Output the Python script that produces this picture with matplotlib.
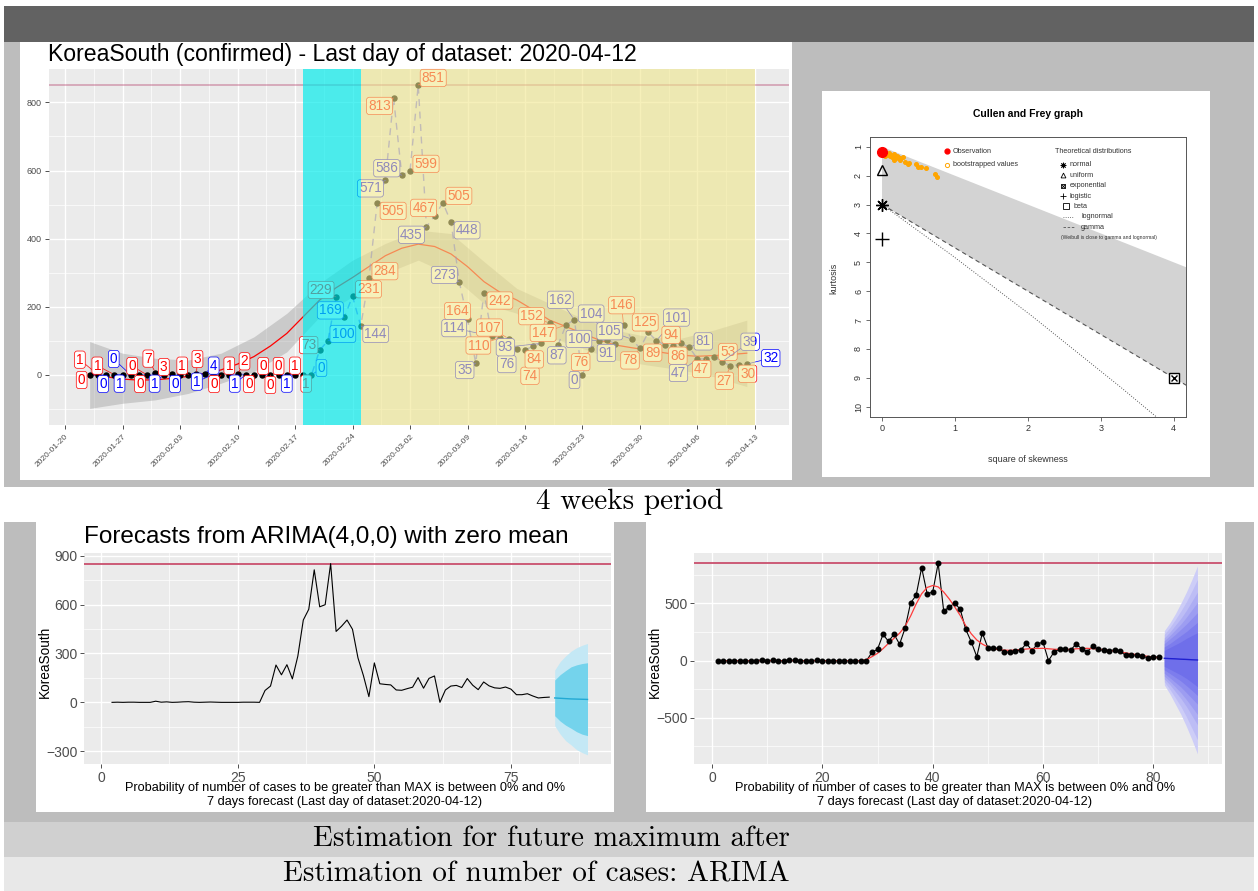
import numpy as np
import matplotlib
matplotlib.use("Agg")
import matplotlib.pyplot as plt
import matplotlib.dates as mdates
from matplotlib.patches import Rectangle, Polygon

plt.rcParams['font.family'] = ['Liberation Sans', 'DejaVu Sans']

# ---- data -------------------------------------------------------------
start_day = '2020-01-23'
new_cases = [0, 1, 0, 1, 1, 0, 0, 0, 7, 1, 3, 0, 1, 3, 4, 1, 0, 1, 2, 1,
             0, 0, 0, 0, 1, 1, 1, 0, 73, 100, 229, 169, 231, 144, 284, 505,
             571, 813, 586, 599, 851, 435, 467, 505, 448, 273, 164, 35, 242,
             114, 110, 107, 76, 74, 84, 93, 152, 87, 147, 162, 0, 76, 100,
             104, 91, 146, 105, 78, 125, 101, 89, 86, 94, 81, 47, 47, 53, 39,
             27, 30, 32]
label_group = ("rrbrbbrrrb" "rbrrbbrrrb" "rrrrbrr"
               "brbrbrbrrb" "rbrrbrrbbr" "brbrrbrrbr" "brbbrbbbrb"
               "rrbrrrbbrr" "brrb")
max_cases = 851
date_ticks = ['2020-01-20', '2020-01-27', '2020-02-03', '2020-02-10',
              '2020-02-17', '2020-02-24', '2020-03-02', '2020-03-09',
              '2020-03-16', '2020-03-23', '2020-03-30', '2020-04-06',
              '2020-04-13']
period_cyan = ('2020-02-18', '2020-02-25')
period_yellow = ('2020-02-25', '2020-04-13')

# loess curve of the top chart (day index from start, value)
smooth_day = [0, 2, 4, 6, 8, 10, 12, 14, 16, 18, 20, 22, 24, 26, 28, 30, 32,
              34, 36, 38, 40, 42, 44, 46, 48, 50, 52, 54, 56, 58, 60, 62, 64,
              66, 68, 70, 72, 74, 76, 78, 80]
smooth_val = [2, -5, -12, -15, -14, -10, -4, 5, 15, 32, 54, 85, 122, 171, 220,
              256, 286, 318, 350, 372, 384, 377, 355, 318, 274, 242, 220, 191,
              161, 142, 122, 103, 88, 80, 73, 65, 58, 55, 57, 60, 64]
band_day = [0, 4, 8, 12, 16, 20, 24, 28, 32, 36, 40, 44, 48, 52, 56, 60, 64,
            68, 72, 76, 80]
band_hi = [98, 64, 49, 44, 64, 112, 181, 269, 337, 386, 425, 415, 333, 254,
           210, 166, 132, 112, 108, 132, 161]
band_lo = [-98, -83, -73, -54, -24, 10, 68, 171, 230, 298, 337, 293, 210, 181,
           112, 78, 44, 29, 15, -5, -34]

# Cullen and Frey
obs_skew2, obs_kurt = 0.0, 1.17
boot_skew2 = [0.01, 0.03, 0.04, 0.06, 0.09, 0.11, 0.13, 0.16, 0.16, 0.19, 0.2,
              0.22, 0.24, 0.25, 0.29, 0.32, 0.36, 0.37, 0.46, 0.5, 0.53, 0.6,
              0.72, 0.75, 0.07, 0.12]
boot_kurt = [1.22, 1.25, 1.31, 1.25, 1.2, 1.31, 1.37, 1.25, 1.46, 1.4, 1.31,
             1.35, 1.46, 1.39, 1.37, 1.51, 1.58, 1.55, 1.58, 1.69, 1.69, 1.75,
             1.95, 2.06, 1.3, 1.28]
lognorm_skew2 = [0, 0.96, 2.05, 3.27, 3.66, 3.8]
lognorm_kurt = [3, 4.76, 6.85, 9.32, 10.14, 10.43]
gamma_skew2 = [0, 4.2]
gamma_kurt = [3, 9.3]
beta_region = [(0, 1), (4.2, 5.2), (4.2, 9.3), (0, 3)]

# ARIMA forecasts
fc_left_mean = [27, 25, 23, 21, 20, 19, 18]
fc_left_hi95 = [198, 250, 285, 314, 335, 350, 361]
fc_left_lo95 = [-143, -195, -235, -261, -290, -308, -322]
fc_left_hi80 = [137, 170, 195, 218, 230, 238, 243]
fc_left_lo80 = [-82, -115, -140, -159, -180, -195, -204]

fc_right_mean = [21, 18, 16, 13, 11, 8, 6]
fc_right_hi = [[262, 330, 410, 503, 600, 710, 828],
               [230, 290, 360, 435, 515, 610, 710],
               [200, 250, 310, 370, 440, 520, 600],
               [175, 220, 270, 320, 380, 445, 510],
               [150, 190, 230, 275, 320, 370, 420],
               [120, 150, 185, 220, 255, 295, 335],
               [90, 115, 140, 165, 195, 220, 245]]
fc_right_lo = [[-212, -290, -380, -470, -575, -690, -815],
               [-185, -250, -325, -400, -490, -590, -690],
               [-160, -210, -270, -330, -400, -480, -560],
               [-135, -180, -230, -280, -340, -405, -470],
               [-110, -150, -190, -230, -280, -330, -380],
               [-80, -112, -145, -178, -218, -260, -304],
               [-50, -75, -100, -125, -155, -190, -228]]
smooth2_x = [1, 5, 10, 15, 20, 25, 27, 28, 29, 30, 31, 32, 33, 34, 35, 36, 37,
             38, 39, 40, 41, 42, 43, 44, 45, 46, 47, 48, 49, 50, 51, 52, 54,
             56, 58, 60, 62, 64, 66, 68, 70, 72, 74, 76, 78, 80, 81]
smooth2_y = [0, 0, 0, 0, 0, 0, 0, 10, 35, 64, 105, 152, 196, 240, 300, 390,
             495, 585, 640, 657, 645, 600, 540, 470, 395, 305, 235, 181, 145,
             120, 105, 95, 90, 98, 106, 108, 100, 96, 104, 108, 102, 90, 76,
             60, 45, 30, 27]

# label placement of the repelled labels, pixels (dx right, dy down)
label_offsets = [(-8, 5), (-18, -15), (-3, 9), (-17, -9), (-3, 9), (-17, -16),
                 (1, 9), (-15, -9), (-7, -14), (-9, 9), (-8, -7), (-5, 9),
                 (-6, -9), (1, -15), (9, -8), (-16, 7), (-7, 9), (0, -9),
                 (7, -13), (-11, 9), (-5, 9), (1, -9), (0, 10), (0, -9),
                 (0, 9), (0, -9), (3, 9), (10, -7), (-11, -5), (15, -7),
                 (-15, -7), (-14, -7), (16, -7), (15, 8), (16, -7), (16, 8),
                 (-15, 8), (-14, 8), (-15, -7), (16, -7), (15, -7), (-15, 8),
                 (-11, -8), (16, -7), (16, 8), (-15, -7), (-10, -8), (-11, 7),
                 (16, 8), (-38, -8), (-22, 8), (-19, -11), (-10, 15), (5, 26),
                 (1, 13), (-36, 4), (-18, -7), (-1, 10), (-23, 8), (-14, -20),
                 (-8, 5), (-10, 13), (-20, -2), (-16, -26), (-9, 9), (-2, -20),
                 (-22, -8), (-10, 12), (-3, -10), (20, -23), (-12, 8), (5, 10),
                 (-10, -8), (14, -6), (-19, 14), (-4, 10), (14, -5), (28, -20),
                 (-6, 15), (9, 9), (24, -6)]

# ---- layout -----------------------------------------------------------
W, H = 1258, 891
fig = plt.figure(figsize=(W / 100, H / 100), dpi=100)


def px_axes(x0, y0, x1, y1, **kw):
    return fig.add_axes([x0 / W, 1 - y1 / H, (x1 - x0) / W, (y1 - y0) / H], **kw)


bg = fig.add_axes([0, 0, 1, 1], zorder=-10)
bg.set_xlim(0, W)
bg.set_ylim(H, 0)
bg.axis('off')
for (x0, y0, x1, y1, c) in [(4, 6, 1254, 42, '#626262'),
                            (4, 42, 1254, 487, '#bdbdbd'),
                            (20, 42, 792, 480, 'white'),
                            (822, 91, 1210, 477, 'white'),
                            (4, 522, 1254, 822, '#bdbdbd'),
                            (36, 522, 614, 812, 'white'),
                            (646, 522, 1225, 812, 'white'),
                            (4, 822, 1254, 857, '#d0d0d0'),
                            (4, 857, 1254, 891, '#e8e8e8')]:
    bg.add_patch(Rectangle((x0, y0), x1 - x0, y1 - y0, color=c, lw=0))

ov = fig.add_axes([0, 0, 1, 1], zorder=20)
ov.set_xlim(0, W)
ov.set_ylim(H, 0)
ov.axis('off')
ov.patch.set_alpha(0)

serif = dict(family='cmr10', fontsize=21, color='black')
ov.text(630, 502, "4 weeks period", ha='center', va='center', **serif)
ov.text(790, 839, "Estimation for future maximum after", ha='right', va='center', **serif)
ov.text(790, 874, "Estimation of number of cases: ARIMA", ha='right', va='center', **serif)


def gg_style(ax, xmaj, xmin, ymaj, ymin, size, pad=2.5):
    ax.set_facecolor('#EBEBEB')
    for s in ax.spines.values():
        s.set_visible(False)
    ax.set_xticks(xmaj)
    ax.set_xticks(xmin, minor=True)
    ax.set_yticks(ymaj)
    ax.set_yticks(ymin, minor=True)
    ax.grid(which='major', color='white', lw=1.0, zorder=0)
    ax.grid(which='minor', color='white', lw=0.5, zorder=0)
    ax.set_axisbelow(True)
    ax.tick_params(which='major', length=3, width=0.6, color='#333333',
                   labelcolor='#4d4d4d', labelsize=size, pad=pad)
    ax.tick_params(which='minor', length=0)


# ---- top chart --------------------------------------------------------
days = np.datetime64(start_day) + np.arange(len(new_cases))
x = mdates.date2num(days)
x0 = x[0]
tick_x = mdates.date2num(np.array(date_ticks, dtype='datetime64[D]'))

ax = px_axes(49, 69, 789, 425)
gg_style(ax, tick_x, tick_x[:-1] + 3.5, [0, 200, 400, 600, 800],
         [-100, 100, 300, 500, 700], 6.5)
ax.set_xticklabels(date_ticks, rotation=45, ha='right', rotation_mode='anchor',
                   fontsize=6)
ax.set_xlim(tick_x[0] - 1.95, tick_x[-1] + 4.14)
ax.set_ylim(-146.7, 897.8)

ax.axhline(max_cases, color='#b03060', alpha=0.35, lw=1.4, zorder=1)
ax.fill_between(x0 + np.array(band_day), band_lo, band_hi, color='#999999',
                alpha=0.4, lw=0, zorder=2)
ax.plot(x0 + np.array(smooth_day), smooth_val, color='red', lw=0.9, zorder=3)
ax.plot(x, new_cases, color='#3030ff', lw=1.0, ls=(0, (5, 4)), alpha=0.6, zorder=3.5)
ax.plot(x, new_cases, 'o', color='black', ms=3.6, zorder=4)

for xi, v, g, (dx, dy) in zip(x, new_cases, label_group, label_offsets):
    c = 'red' if g == 'r' else 'blue'
    ax.annotate(str(v), xy=(xi, v), xytext=(dx * 0.72, -dy * 0.72),
                textcoords='offset points', ha='center', va='center',
                fontsize=9.8, color=c, zorder=5,
                bbox=dict(boxstyle='round,pad=0.12,rounding_size=0.2',
                          fc='white', ec=c, lw=0.5),
                arrowprops=dict(arrowstyle='-', color=c, lw=0.5,
                                shrinkA=0, shrinkB=2))

c0, c1 = mdates.date2num(np.array(period_cyan, dtype='datetime64[D]'))
ax.axvspan(c0, c1, color='#00EBEB', alpha=0.68, lw=0, zorder=6)
y0_, y1_ = mdates.date2num(np.array(period_yellow, dtype='datetime64[D]'))
ax.axvspan(y0_, y1_, color='khaki', alpha=0.6, lw=0, zorder=6)

ov.text(48, 55, "KoreaSouth (confirmed) - Last day of dataset: 2020-04-12",
        fontsize=16.6, ha='left', va='center')

# ---- Cullen and Frey --------------------------------------------------
cf = px_axes(870, 137, 1186, 417)
cf.set_xlim(-0.165, 4.17)
cf.set_ylim(10.36, 0.66)
cf.add_patch(Polygon(beta_region, closed=True, color='#d3d3d3', lw=0, zorder=1))
cf.plot(lognorm_skew2, lognorm_kurt, color='#555555', ls=':', lw=0.7, zorder=2)
cf.plot(gamma_skew2, gamma_kurt, color='#555555', ls=(0, (4, 3)), lw=0.8, zorder=2)
cf.plot(boot_skew2, boot_kurt, 'o', color='orange', ms=2.6, zorder=3)
cf.plot([obs_skew2], [obs_kurt], 'o', color='red', ms=7, zorder=4)
cf.plot([0], [1.8], '^', mfc='none', mec='black', ms=7, mew=1.0, zorder=4)
cf.plot([0], [3], marker=(8, 2, 0), color='black', ms=9, mew=1.0, zorder=4)
cf.plot([0], [4.2], '+', color='black', ms=10, mew=1.0, zorder=4)
cf.plot([4], [9], 's', mfc='white', mec='black', ms=7, mew=1.0, zorder=4)
cf.plot([4], [9], 'x', color='black', ms=5, mew=1.0, zorder=5)
cf.set_xticks([0, 1, 2, 3, 4])
cf.set_yticks(range(1, 11))
cf.tick_params(length=3, width=0.6, color='#555555', labelsize=6.5,
               labelcolor='#333333', pad=2)
for lab in cf.get_yticklabels():
    lab.set_rotation(90)
    lab.set_va('center')
for s in cf.spines.values():
    s.set_color('#555555')
    s.set_linewidth(0.7)
ov.text(1028, 114, "Cullen and Frey graph", fontsize=7.5, fontweight='bold',
        ha='center', va='center')
ov.text(1028, 459, "square of skewness", fontsize=6.5, ha='center', va='center',
        color='#333333')
ov.text(834, 278, "kurtosis", fontsize=6.5, ha='center', va='center',
        rotation=90, color='#333333')

leg = dict(fontsize=5.2, va='center', ha='left', color='#333333')
ov.plot([946.7], [151.3], 'o', color='red', ms=3.5)
ov.text(952.7, 151.3, "Observation", **leg)
ov.plot([946.7], [164.7], 'o', mfc='none', mec='orange', ms=3, mew=0.7)
ov.text(952.7, 164.7, "bootstrapped values", **leg)
ov.text(1055, 151.3, "Theoretical distributions", **leg)
ov.plot([1063.3], [164.7], marker=(8, 2, 0), color='black', ms=4, mew=0.6)
ov.text(1069.3, 164.7, "normal", **leg)
ov.plot([1063.3], [175.3], '^', mfc='none', mec='black', ms=3.5, mew=0.6)
ov.text(1069.3, 175.3, "uniform", **leg)
ov.plot([1063.3], [185.7], 's', mfc='white', mec='black', ms=3.5, mew=0.6)
ov.plot([1063.3], [185.7], 'x', color='black', ms=2.5, mew=0.6)
ov.text(1069.3, 185.7, "exponential", **leg)
ov.plot([1063.3], [196], '+', color='black', ms=4.5, mew=0.6)
ov.text(1069.3, 196, "logistic", **leg)
ov.plot([1065.7], [206.3], 's', mfc='none', mec='black', ms=4, mew=0.6)
ov.text(1074, 206.3, "beta", **leg)
ov.plot([1063, 1074], [217, 217], color='#555555', ls=':', lw=0.6)
ov.text(1081, 217, "lognormal", **leg)
ov.plot([1063, 1074], [227.3, 227.3], color='#555555', ls=(0, (3, 2)), lw=0.6)
ov.text(1081, 227.3, "gamma", **leg)
ov.text(1060.7, 237, "(Weibull is close to gamma and lognormal)", fontsize=3.6,
        va='center', ha='left', color='#333333')

# ---- ARIMA left -------------------------------------------------------
idx = np.arange(len(new_cases))
al = px_axes(83.6, 552.7, 611, 764.3)
gg_style(al, [0, 25, 50, 75], [12.5, 37.5, 62.5, 87.5],
         [-300, 0, 300, 600, 900], [-150, 150, 450, 750], 10, pad=1.5)
al.set_xlim(-3.2, 93.3)
al.set_ylim(-380, 918)
al.axhline(max_cases, color='#c94f6d', lw=1.3, zorder=1)
al.plot(idx + 2, new_cases, color='black', lw=0.8, zorder=3)
fxl = np.arange(len(fc_left_mean)) + len(new_cases) + 2
al.fill_between(fxl, fc_left_lo95, fc_left_hi95, color='#c4e8f5', lw=0, zorder=2)
al.fill_between(fxl, fc_left_lo80, fc_left_hi80, color='#74d3ec', lw=0, zorder=2)
al.plot(fxl, fc_left_mean, color='#22a9d4', lw=1.0, zorder=3)
ov.text(84, 537, "Forecasts from ARIMA(4,0,0) with zero mean", fontsize=17.5,
        ha='left', va='center')

# ---- ARIMA right ------------------------------------------------------
ar = px_axes(693.6, 552.7, 1221.7, 764.3)
gg_style(ar, [0, 20, 40, 60, 80], [10, 30, 50, 70, 90],
         [-500, 0, 500], [-750, -250, 250, 750], 10, pad=1.5)
ar.set_xlim(-3.34, 92.4)
ar.set_ylim(-906, 944)
ar.axhline(max_cases, color='#c94f6d', lw=1.3, zorder=1)
ar.plot(idx + 1, new_cases, color='black', lw=0.8, zorder=3)
ar.plot(idx + 1, new_cases, 'o', color='black', ms=3.3, zorder=4)
ar.plot(smooth2_x, smooth2_y, color='#ff3b3b', lw=0.9, zorder=3.5)
fxr = np.arange(len(fc_right_mean)) + len(new_cases) + 1
fan_colors = ['#cdcdf7', '#bdbdf5', '#adadf3', '#9d9df1', '#8d8def',
              '#7d7ded', '#6f6fea']
for lo, hi, c in zip(fc_right_lo, fc_right_hi, fan_colors):
    ar.fill_between(fxr, lo, hi, color=c, lw=0, zorder=2)
ar.plot(fxr, fc_right_mean, color='#1f1fd0', lw=1.0, zorder=3)

xlab1 = "Probability of number of cases to be greater than MAX is between 0% and 0%"
xlab2 = "7 days forecast (Last day of dataset:2020-04-12)"
for cx in (345, 955):
    ov.text(cx, 788.5, xlab1, fontsize=9.2, ha='center', va='center')
    ov.text(cx, 802, xlab2, fontsize=9.2, ha='center', va='center')
for cx in (44.5, 654.5):
    ov.text(cx, 662, "KoreaSouth", fontsize=9.8, ha='center', va='center',
            rotation=90)

fig.savefig("out.png", dpi=100)
